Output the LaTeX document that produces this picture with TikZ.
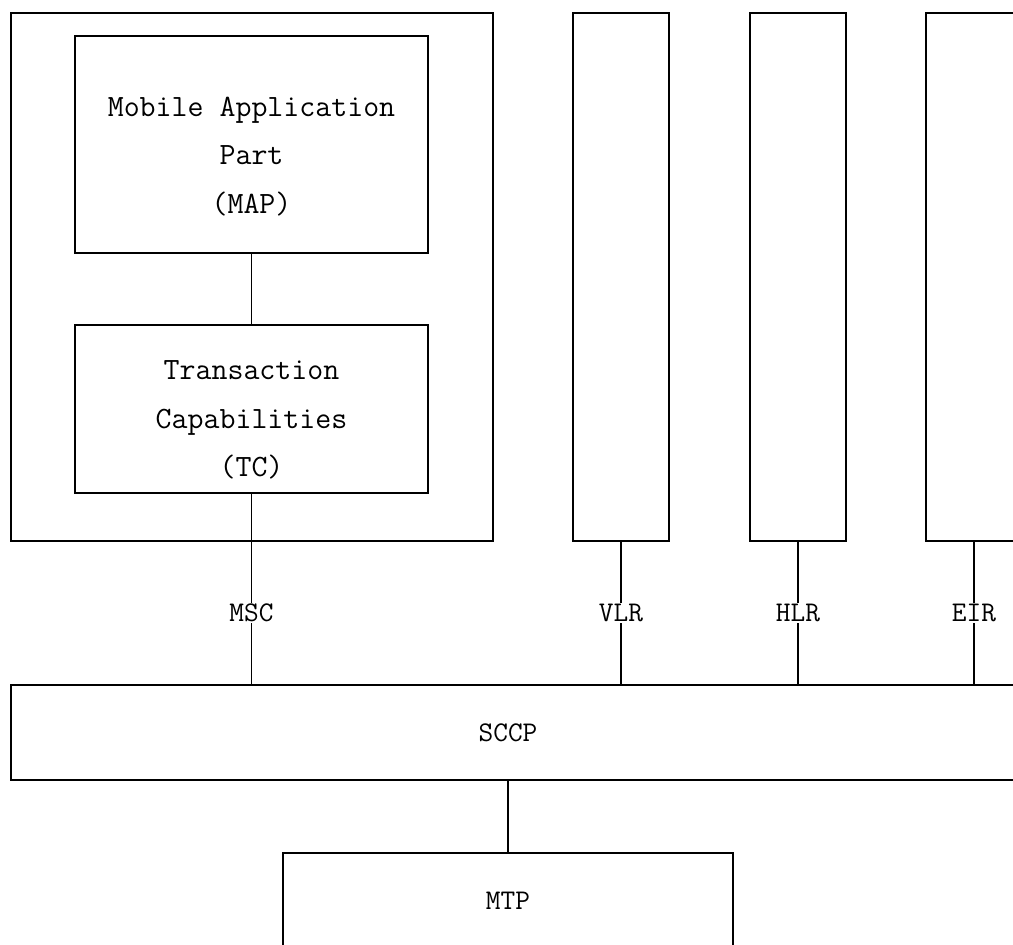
\documentclass[tikz,border=0pt]{standalone}
\usepackage{fontspec}

\begin{document}
\begin{tikzpicture}[x=1pt,y=-1pt,
        every node/.style={font=\ttfamily\fontsize{28.5}{48.5}\selectfont},
        block/.style={draw, line width=2pt, inner sep=0pt},
        layertext/.style={align=center, font=\ttfamily\fontsize{31}{48.5}\selectfont},
        link/.style={line width=1.2pt},
        tag/.style={fill=white, inner sep=1pt}]
        \clip (0,0) rectangle (1013,945);
        % MSC side
        \node[block, minimum width=482pt, minimum height=528pt] (msc) at (252,277) {};
        \node[block, minimum width=353pt, minimum height=217pt] (map) at (251.5,144.5) {};
        \node[block, minimum width=353pt, minimum height=168pt] (tc) at (251.5,409) {};
        \node[layertext] (maptext) at ([yshift=-12pt]map.center) {Mobile Application\\Part\\(MAP)};
        \node[layertext] (tctext) at ([yshift=-11pt]tc.center) {Transaction\\Capabilities\\(TC)};
        % lower layers
        \node[block, minimum width=1014pt, minimum height=95pt] (sccp) at (518,732.5) {};
        \node (sccptext) at (508,733) {SCCP};
        \node[block, minimum width=450pt, minimum height=100pt] (mtp) at (508,903) {};
        \node (mtptext) at (508,901) {MTP};
        \draw[link] (map.south) -- (tc.north);
        \draw[link] (tc.south) -- (tc.south |- sccp.north) node[tag, pos=0.625] {MSC};
        \draw[link] (mtp.north |- sccp.south) -- (mtp.north);
        % registers
        \foreach \n/\x in {VLR/621,HLR/798,EIR/974}
        {
            \node[block, minimum width=96pt, minimum height=528pt] (\n) at (\x,277) {};
            \draw[link] (\n.south) -- (\n.south |- sccp.north) node[tag, midway] {\n};
        }
\end{tikzpicture}
\end{document}
